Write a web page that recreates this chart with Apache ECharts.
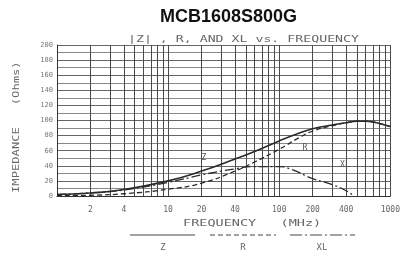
<!DOCTYPE html>
<html lang="en">
<head>
    <meta charset="UTF-8">
    <title>MCB1608S800G</title>
    <style>
        html, body { margin: 0; padding: 0; background: #fff; }
        #chart { width: 403px; height: 254px; }
    </style>
    <script src="https://cdn.jsdelivr.net/npm/echarts@6/dist/echarts.min.js"></script>
</head>
<body>
<div id="chart"></div>
<script>
    // frequency (MHz) and impedance (Ohms)
    let zFreq = [1, 2, 4, 10, 20, 40, 60, 100, 150, 200, 300, 400, 500, 600, 700, 800, 1000];
    let zVal  = [2, 4, 8.5, 20, 33, 49, 59, 73, 83, 89, 94, 97, 99, 99, 98, 96, 92];

    let rFreq = [1, 2, 4, 10, 20, 40, 60, 100, 150, 200, 300, 400, 500, 600, 700, 800, 1000];
    let rVal  = [0.5, 1, 3, 9, 17, 33, 45, 62, 77, 86, 93, 97, 99, 99, 98, 96, 92];

    let xFreq = [1, 2, 4, 10, 20, 40, 60, 100, 130, 200, 300, 400, 470];
    let xVal  = [2, 4, 8, 18, 28, 36, 39, 39, 35, 23, 15, 7, 0];

    let gridFreqs  = [1, 2, 3, 4, 5, 6, 7, 8, 9, 10, 20, 30, 40, 50, 60, 70, 80, 90, 100,
                      200, 300, 400, 500, 600, 700, 800, 900, 1000];
    let labelFreqs = [2, 4, 10, 20, 40, 100, 200, 400, 1000];

    // x axis works on log10(f)
    function pairs(fs, vs) {
        return fs.map(function (f, i) { return [Math.log10(f), vs[i]]; });
    }

    var dom = document.getElementById('chart');
    var myChart = echarts.init(dom);

    var ink = '#2a2a2a';
    var grey = '#555';
    var mono = '"DejaVu Sans Mono"';

    var option = {
        animation: false,
        title: {
            text: 'MCB1608S800G',
            left: 155,
            top: 3,
            textStyle: {fontFamily: 'Liberation Sans', fontSize: 18, fontWeight: 'bold', color: '#111'}
        },
        grid: {left: 57, right: 5, top: 45, bottom: 58},
        xAxis: {
            type: 'value',
            min: 0,
            max: 3,
            axisLine: {show: true, lineStyle: {color: '#333'}},
            axisTick: {show: false, customValues: gridFreqs.map(Math.log10)},
            axisLabel: {
                customValues: labelFreqs.map(Math.log10),
                formatter: function (v) { return String(Math.round(Math.pow(10, v))); },
                fontFamily: 'DejaVu Sans Mono',
                fontSize: 8,
                color: '#666',
                margin: 10
            },
            splitLine: {show: true, lineStyle: {color: '#4a4a4a', width: 1}}
        },
        yAxis: {
            type: 'value',
            min: 0,
            max: 200,
            interval: 20,
            axisLine: {show: true, lineStyle: {color: '#333'}},
            axisTick: {show: false},
            axisLabel: {fontFamily: 'DejaVu Sans Mono', fontSize: 7, color: '#777', margin: 4},
            splitLine: {show: true, lineStyle: {color: '#666', width: 1}},
            minorTick: {show: false, splitNumber: 2},
            minorSplitLine: {show: true, lineStyle: {color: '#888', width: 1}}
        },
        series: [{
            name: 'Z',
            type: 'line',
            showSymbol: false,
            smooth: true,
            data: pairs(zFreq, zVal),
            lineStyle: {color: ink, width: 1.6},
            markPoint: {
                symbolSize: 0,
                label: {show: true, formatter: 'Z', color: grey, fontSize: 8, fontFamily: 'DejaVu Sans Mono'},
                data: [{coord: [Math.log10(21), 50]}]
            }
        }, {
            name: 'R',
            type: 'line',
            showSymbol: false,
            smooth: true,
            data: pairs(rFreq, rVal),
            lineStyle: {color: ink, width: 1.3, type: [5, 3]},
            markPoint: {
                symbolSize: 0,
                label: {show: true, formatter: 'R', color: grey, fontSize: 8, fontFamily: 'DejaVu Sans Mono'},
                data: [{coord: [Math.log10(170), 64]}]
            }
        }, {
            name: 'XL',
            type: 'line',
            showSymbol: false,
            smooth: true,
            data: pairs(xFreq, xVal),
            lineStyle: {color: ink, width: 1.3, type: [9, 3, 2, 3]},
            markPoint: {
                symbolSize: 0,
                label: {show: true, formatter: 'XL', color: grey, fontSize: 8, fontFamily: 'DejaVu Sans Mono'},
                data: [{coord: [Math.log10(390), 41]}]
            }
        }],
        graphic: [
            // stretched plotter-style captions
            {type: 'text', x: 128, y: 40, scaleX: 1.47,
             style: {text: '|Z| , R, AND XL vs. FREQUENCY', fill: '#666', font: '9px ' + mono, textVerticalAlign: 'middle'}},
            {type: 'text', x: 183, y: 224, scaleX: 1.5,
             style: {text: 'FREQUENCY   (MHz)', fill: '#666', font: '9px ' + mono, textVerticalAlign: 'middle'}},
            {type: 'text', x: 17, y: 193, rotation: Math.PI / 2, scaleX: 1.35,
             style: {text: 'IMPEDANCE   (Ohms)', fill: '#666', font: '9px ' + mono, textVerticalAlign: 'middle'}},
            // legend under the axis title
            {type: 'line', shape: {x1: 130, y1: 235, x2: 195, y2: 235}, style: {stroke: '#444', lineWidth: 1}},
            {type: 'text', style: {x: 163, y: 243, text: 'Z', fill: '#666', font: '9px ' + mono, textAlign: 'center'}},
            {type: 'line', shape: {x1: 210, y1: 235, x2: 276, y2: 235}, style: {stroke: '#444', lineWidth: 1, lineDash: [5, 3]}},
            {type: 'text', style: {x: 243, y: 243, text: 'R', fill: '#666', font: '9px ' + mono, textAlign: 'center'}},
            {type: 'line', shape: {x1: 290, y1: 235, x2: 355, y2: 235}, style: {stroke: '#444', lineWidth: 1, lineDash: [12, 3, 2, 3]}},
            {type: 'text', style: {x: 322, y: 243, text: 'XL', fill: '#666', font: '9px ' + mono, textAlign: 'center'}}
        ]
    };

    myChart.setOption(option);
</script>
</body>
</html>
